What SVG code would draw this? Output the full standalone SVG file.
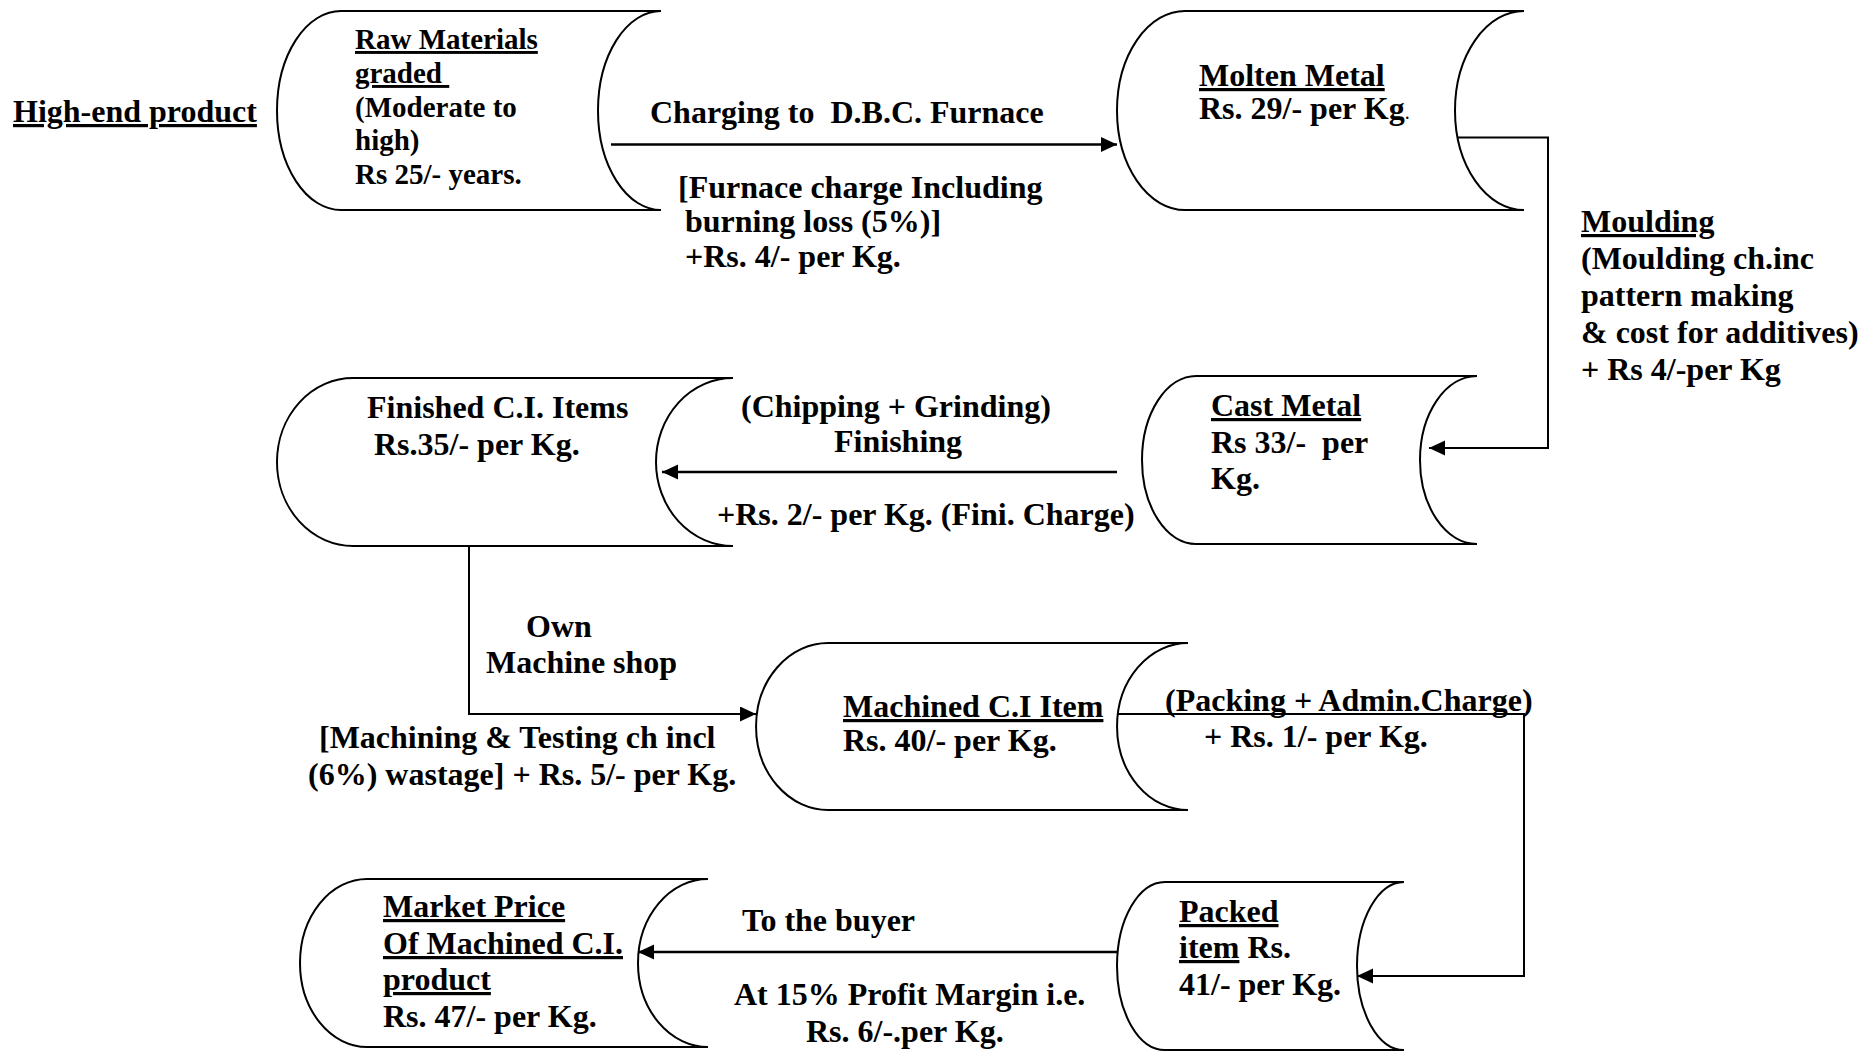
<svg xmlns="http://www.w3.org/2000/svg" width="1874" height="1052" viewBox="0 0 1874 1052">
<defs>
<style>
.t{font-family:"Liberation Serif","Times New Roman",serif;font-weight:bold;font-size:32px;fill:#000}
.s{font-size:29px}
.u{text-decoration:underline;text-decoration-thickness:3px}
.node{fill:#fff;stroke:#000;stroke-width:2}
.conn{fill:none;stroke:#000;stroke-width:2.5}
.thin{stroke-width:2}
</style>
<marker id="arr" markerUnits="userSpaceOnUse" markerWidth="18" markerHeight="18" refX="16" refY="7.5" orient="auto">
<path d="M0,0 L16,7.5 L0,15 Z" fill="#000"/>
</marker>
</defs>
<rect width="1874" height="1052" fill="#fff"/>
<text class="t u" x="13" y="122">High-end product</text>
<g id="connectors">
<path class="conn" d="M611,144.5 H1117" marker-end="url(#arr)"/>
<path class="conn thin" d="M1453,137.5 H1548 V448 H1429" marker-end="url(#arr)"/>
<path class="conn" d="M1117,472 H662" marker-end="url(#arr)"/>
<path class="conn thin" d="M469,546 V714 H756" marker-end="url(#arr)"/>
<path class="conn thin" d="M1117,714 H1524 V976 H1357" marker-end="url(#arr)"/>
<path class="conn" d="M1117,952 H638" marker-end="url(#arr)"/>
</g>
<g id="label-charging">
<text class="t" x="650" y="123" xml:space="preserve">Charging to  D.B.C. Furnace</text>
<text class="t" x="678" y="198">[Furnace charge Including</text>
<text class="t" x="685" y="232">burning loss (5%)]</text>
<text class="t" x="685" y="267">+Rs. 4/- per Kg.</text>
</g>
<g id="label-moulding">
<text class="t u" x="1581" y="232">Moulding</text>
<text class="t" x="1581" y="269">(Moulding ch.inc</text>
<text class="t" x="1581" y="306">pattern making</text>
<text class="t" x="1581" y="343">&amp; cost for additives)</text>
<text class="t" x="1581" y="380">+ Rs 4/-per Kg</text>
</g>
<g id="label-finishing">
<text class="t" x="741" y="417">(Chipping + Grinding)</text>
<text class="t" x="834" y="452">Finishing</text>
<text class="t" x="717" y="525">+Rs. 2/- per Kg. (Fini. Charge)</text>
</g>
<g id="label-machine-shop">
<text class="t" x="526" y="637">Own</text>
<text class="t" x="486" y="673">Machine shop</text>
<text class="t" x="319" y="748">[Machining &amp; Testing ch incl</text>
<text class="t" x="308" y="785">(6%) wastage] + Rs. 5/- per Kg.</text>
</g>
<g id="label-packing">
<text class="t" x="1165" y="711">(Packing + Admin.Charge)</text>
<text class="t" x="1204" y="747">+ Rs. 1/- per Kg.</text>
</g>
<g id="label-buyer">
<text class="t" x="742" y="931">To the buyer</text>
<text class="t" x="734" y="1005">At 15% Profit Margin i.e.</text>
<text class="t" x="806" y="1042">Rs. 6/-.per Kg.</text>
</g>
<g id="node-raw">
<path class="node" d="M341,11 H661 A63,99.5 0 0 0 661,210 H341 A64,99.5 0 0 1 341,11 Z"/>
<text class="t s u" x="355" y="49">Raw Materials</text>
<text class="t s u" x="355" y="83" xml:space="preserve">graded </text>
<text class="t s" x="355" y="117">(Moderate to</text>
<text class="t s" x="355" y="150">high)</text>
<text class="t s" x="355" y="184">Rs 25/- years.</text>
</g>
<g id="node-molten">
<path class="node" d="M1185,11 H1524 A69,99.5 0 0 0 1524,210 H1185 A68,99.5 0 0 1 1185,11 Z"/>
<text class="t u" x="1199" y="86">Molten Metal</text>
<text class="t" x="1199" y="119">Rs. 29/- per Kg<tspan font-weight="normal" font-size="20">.</tspan></text>
</g>
<g id="node-cast">
<path class="node" d="M1196,376 H1477 A57,84 0 0 0 1477,544 H1196 A54,84 0 0 1 1196,376 Z"/>
<text class="t u" x="1211" y="416">Cast Metal</text>
<text class="t" x="1211" y="453" xml:space="preserve">Rs 33/-  per</text>
<text class="t" x="1211" y="489">Kg.</text>
</g>
<g id="node-finished">
<path class="node" d="M353,378 H733 A77,84 0 0 0 733,546 H353 A76,84 0 0 1 353,378 Z"/>
<text class="t" x="367" y="418">Finished C.I. Items</text>
<text class="t" x="374" y="455">Rs.35/- per Kg.</text>
</g>
<g id="node-machined">
<path class="node" d="M828,643 H1188 A71,83.5 0 0 0 1188,810 H828 A72,83.5 0 0 1 828,643 Z"/>
<text class="t u" x="843" y="717">Machined C.I Item</text>
<text class="t" x="843" y="751">Rs. 40/- per Kg.</text>
</g>
<g id="node-packed">
<path class="node" d="M1165,882 H1404 A47,84 0 0 0 1404,1050 H1165 A48,84 0 0 1 1165,882 Z"/>
<text class="t u" x="1179" y="922">Packed</text>
<text class="t" x="1179" y="958"><tspan class="u">item</tspan> Rs.</text>
<text class="t" x="1179" y="995">41/- per Kg.</text>
</g>
<g id="node-market">
<path class="node" d="M367,879 H708 A70,84 0 0 0 708,1047 H367 A67,84 0 0 1 367,879 Z"/>
<text class="t u" x="383" y="917">Market Price</text>
<text class="t u" x="383" y="954">Of Machined C.I.</text>
<text class="t u" x="383" y="990">product</text>
<text class="t" x="383" y="1027">Rs. 47/- per Kg.</text>
</g>
</svg>
